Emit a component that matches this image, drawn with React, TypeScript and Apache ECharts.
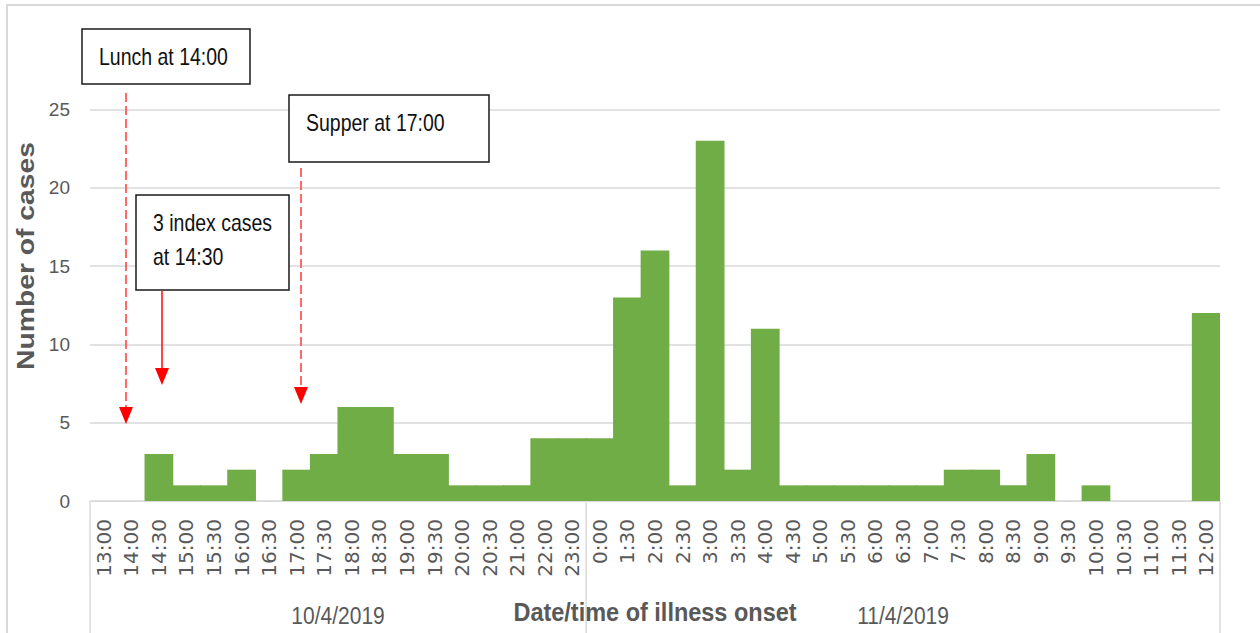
import React, { useEffect, useRef } from "react";
import * as echarts from "echarts";

const categories = [
  "13:00", "14:00", "14:30", "15:00", "15:30", "16:00", "16:30", "17:00", "17:30", "18:00",
  "18:30", "19:00", "19:30", "20:00", "20:30", "21:00", "22:00", "23:00",
  "0:00", "1:30", "2:00", "2:30", "3:00", "3:30", "4:00", "4:30", "5:00", "5:30", "6:00",
  "6:30", "7:00", "7:30", "8:00", "8:30", "9:00", "9:30", "10:00", "10:30", "11:00", "11:30", "12:00",
];
const cases = [
  0, 0, 3, 1, 1, 2, 0, 2, 3, 6,
  6, 3, 3, 1, 1, 1, 4, 4,
  4, 13, 16, 1, 23, 2, 11, 1, 1, 1, 1,
  1, 1, 2, 2, 1, 3, 0, 1, 0, 0, 0, 12,
];
const dateGroups = ["10/4/2019", "11/4/2019"];
const groupStarts = [0, 18];
const yTicks = { min: 0, max: 25, interval: 5 };
const yTitle = "Number of cases";
const xTitle = "Date/time of illness onset";
const notes = ["Lunch at 14:00", "3 index cases", "at 14:30", "Supper at 17:00"];

const GREY = "#595959";
const LINE = "#d9d9d9";
const GREEN = "#70AD47";
const PLOT_LEFT = 90;
const PLOT_RIGHT = 1220;

export default function App() {
  const ref = useRef<HTMLDivElement>(null);
  useEffect(() => {
    if (!ref.current) return;
    const chart = echarts.init(ref.current, null, { renderer: "svg" });
    const bandPx = (PLOT_RIGHT - PLOT_LEFT) / categories.length;
    chart.setOption({
      animation: false,
      backgroundColor: "#ffffff",
      grid: { left: PLOT_LEFT, right: 1260 - PLOT_RIGHT, top: 109.5, bottom: 132, containLabel: false },
      xAxis: {
        type: "category",
        data: categories,
        axisLine: { show: true, lineStyle: { color: LINE, width: 1 } },
        axisTick: { show: false },
        axisLabel: {
          rotate: 90,
          interval: 0,
          margin: 18,
          color: GREY,
          fontFamily: "DejaVu Sans",
          fontSize: 20,
        },
      },
      yAxis: {
        type: "value",
        min: yTicks.min,
        max: yTicks.max,
        interval: yTicks.interval,
        axisLine: { show: false },
        axisTick: { show: false },
        splitLine: { lineStyle: { color: LINE, width: 1.5 } },
        axisLabel: {
          margin: 20,
          color: GREY,
          fontFamily: "Liberation Sans",
          fontSize: 19,
        },
      },
      series: [
        {
          type: "bar",
          data: cases,
          barWidth: bandPx + 1.2,
          itemStyle: { color: GREEN, borderWidth: 0 },
        },
      ],
    });

    const c0 = chart.convertToPixel({ xAxisIndex: 0 }, 0) as number;
    const c1 = chart.convertToPixel({ xAxisIndex: 0 }, 1) as number;
    const band = c1 - c0;
    const bound = (i: number) => c0 - band / 2 + i * band;
    const axisY = chart.convertToPixel({ yAxisIndex: 0 }, 0) as number;
    const edges = [...groupStarts.map(bound), bound(categories.length)];

    const graphic: any[] = [];
    graphic.push({
      type: "rect",
      shape: { x: 7, y: 5, width: 1400, height: 800 },
      style: { fill: "none", stroke: LINE, lineWidth: 2 },
      silent: true,
      z: 0,
    });
    edges.forEach((x) => {
      graphic.push({
        type: "line",
        shape: { x1: x, y1: axisY, x2: x, y2: 640 },
        style: { stroke: LINE, lineWidth: 1.5 },
        silent: true,
      });
    });
    dateGroups.forEach((g, i) => {
      const mid = (edges[i] + edges[i + 1]) / 2;
      graphic.push({
        type: "text",
        x: mid,
        y: 616,
        scaleY: 1.13,
        style: {
          text: g,
          fill: GREY,
          font: "21px 'Liberation Sans'",
          align: "center",
          verticalAlign: "middle",
        },
      });
    });
    graphic.push({
      type: "text",
      x: 655,
      y: 612,
      scaleY: 1.08,
      style: {
        text: xTitle,
        fill: GREY,
        font: "bold 23.5px 'Liberation Sans'",
        align: "center",
        verticalAlign: "middle",
      },
    });
    graphic.push({
      type: "text",
      x: 26,
      y: 256,
      rotation: Math.PI / 2,
      scaleX: 1.23,
      style: {
        text: yTitle,
        fill: GREY,
        font: "bold 23px 'Liberation Sans'",
        align: "center",
        verticalAlign: "middle",
      },
    });

    const box = (x: number, y: number, w: number, h: number) => ({
      type: "rect",
      shape: { x, y, width: w, height: h },
      style: { fill: "#ffffff", stroke: "#1a1a1a", lineWidth: 1.5 },
      z: 10,
    });
    const note = (t: string, x: number, y: number) => ({
      type: "text",
      x,
      y,
      scaleY: 1.2,
      z: 11,
      style: {
        text: t,
        fill: "#111111",
        font: "19.5px 'Liberation Sans'",
        align: "left",
        verticalAlign: "middle",
      },
    });
    const arrow = (x: number, yStart: number, tip: number, dashed: boolean) => [
      {
        type: "line",
        z: 9,
        shape: { x1: x, y1: yStart, x2: x, y2: tip - 14 },
        style: {
          stroke: dashed ? "#ff5a5a" : "#ff3030",
          lineWidth: 1.8,
          lineDash: dashed ? [9, 4] : null,
        },
      },
      {
        type: "polygon",
        z: 9,
        shape: { points: [[x - 7, tip - 17], [x + 7, tip - 17], [x, tip]] },
        style: { fill: "#ff0000" },
      },
    ];

    graphic.push(box(82, 29, 168, 55));
    graphic.push(note(notes[0], 99, 57));
    graphic.push(...arrow(126, 93, 424, true));

    graphic.push(box(136, 195, 153, 95));
    graphic.push(note(notes[1], 153, 223));
    graphic.push(note(notes[2], 153, 257));
    graphic.push(...arrow(162, 291, 385, false));

    graphic.push(box(289, 95, 200, 67));
    graphic.push(note(notes[3], 306, 123));
    graphic.push(...arrow(301, 168, 404, true));

    chart.setOption({ graphic });

    return () => chart.dispose();
  }, []);
  return (
    <div
      ref={ref}
      style={{ position: "fixed", left: 0, top: 0, width: 1260, height: 633 }}
    />
  );
}
